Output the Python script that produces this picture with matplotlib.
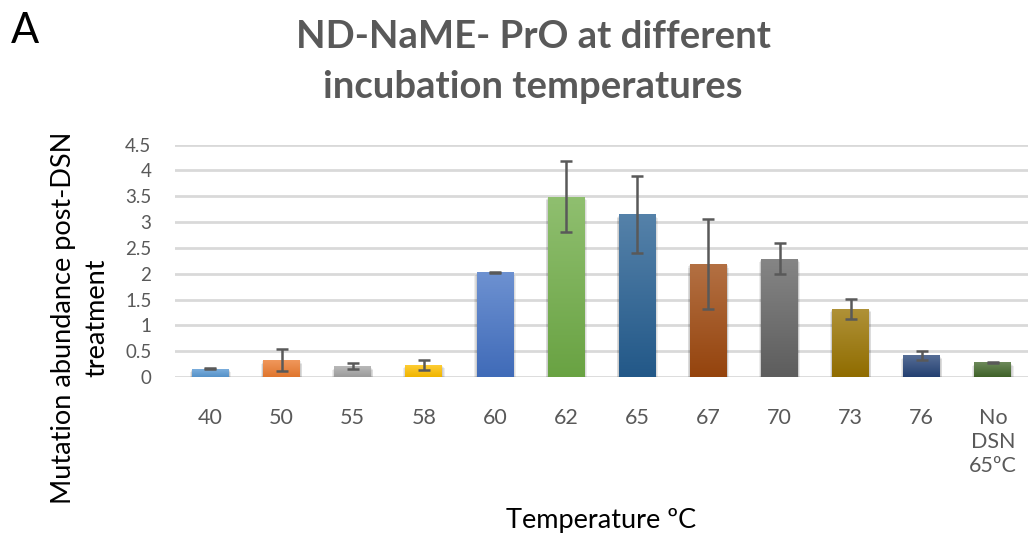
import numpy as np
import matplotlib
matplotlib.use("Agg")
import matplotlib.pyplot as plt
from matplotlib.colors import to_rgb

# Values
temps = ["40", "50", "55", "58", "60", "62", "65", "67", "70", "73", "76", "No\nDSN\n65ºC"]
abundance = [0.16, 0.33, 0.21, 0.235, 2.03, 3.49, 3.15, 2.19, 2.29, 1.32, 0.42, 0.285]
errors = [0.01, 0.21, 0.055, 0.095, 0.01, 0.69, 0.74, 0.87, 0.30, 0.19, 0.09, 0.005]
colors = ["#5B9BD5", "#ED7D31", "#A5A5A5", "#FFC000", "#4472C4", "#70AD47",
          "#255E91", "#9E480E", "#636363", "#997300", "#264478", "#43682B"]
yticks = [0, 0.5, 1, 1.5, 2, 2.5, 3, 3.5, 4, 4.5]

font = ["Lato", "DejaVu Sans"]
grey = "#595959"

fig = plt.figure(figsize=(10.29, 5.37), dpi=100)
ax = fig.add_axes([0.170, 0.298, 0.8295, 0.4326])

x = np.arange(len(temps))
width = 0.52


def blend(c, other, t):
    c = np.array(to_rgb(c))
    return c * (1 - t) + np.array(other) * t


# soft shadow under each bar
for k in range(3):
    ax.bar(x, np.array(abundance) + 0.02, bottom=-0.09 + k * 0.02, width=width + 0.06 - k * 0.02,
           color="black", alpha=0.07, linewidth=0, zorder=1)

bars = ax.bar(x, abundance, width=width, color=colors, linewidth=0, zorder=2)

# vertical gradient fill, lighter at the top
for b, c in zip(bars, colors):
    top = blend(c, (1, 1, 1), 0.22)
    bot = blend(c, (0, 0, 0), 0.06)
    t = np.linspace(0, 1, 64)[:, None]
    grad = (bot[None, :] * (1 - t) + top[None, :] * t)[:, None, :]
    x0, w, h = b.get_x(), b.get_width(), b.get_height()
    im = ax.imshow(grad, extent=[x0, x0 + w, 0, h], origin="lower", aspect="auto", zorder=3)
    im.set_clip_path(b)

ax.errorbar(x, abundance, yerr=errors, fmt="none", ecolor=grey, elinewidth=1.8,
            capsize=4.5, capthick=1.8, zorder=4)

ax.set_xlim(-0.5, len(temps) - 0.5)
ax.set_ylim(0, 4.5)
ax.set_yticks(yticks)
ax.set_yticklabels([f"{v:g}" for v in yticks], family=font, fontsize=13.5, color=grey)
ax.set_xticks(x)
ax.set_xticklabels(temps, family=font, fontsize=15.5, color=grey, linespacing=1.25, va="top")
ax.tick_params(axis="both", length=0)
ax.tick_params(axis="x", pad=22)
ax.tick_params(axis="y", pad=17)
ax.grid(axis="y", color="#d9d9d9", linewidth=2.0, zorder=0)
ax.set_axisbelow(True)
for s in ax.spines.values():
    s.set_visible(False)

fig.text(0.078, 0.408, "Mutation abundance post-DSN\ntreatment", family=font, fontsize=19.5,
         rotation=90, ha="center", va="center", linespacing=1.4, multialignment="center")
fig.text(0.584, 0.03, "Temperature ºC", family=font, fontsize=19.5, ha="center", va="center")

fig.text(0.518, 0.962, "ND-NaME- PrO at different\nincubation temperatures", family=font,
         fontsize=27.5, fontweight="bold", color=grey, ha="center", va="top", linespacing=1.55)
fig.text(0.011, 0.978, "A", family=font, fontsize=30, ha="left", va="top")

fig.savefig("out.png", dpi=100)
